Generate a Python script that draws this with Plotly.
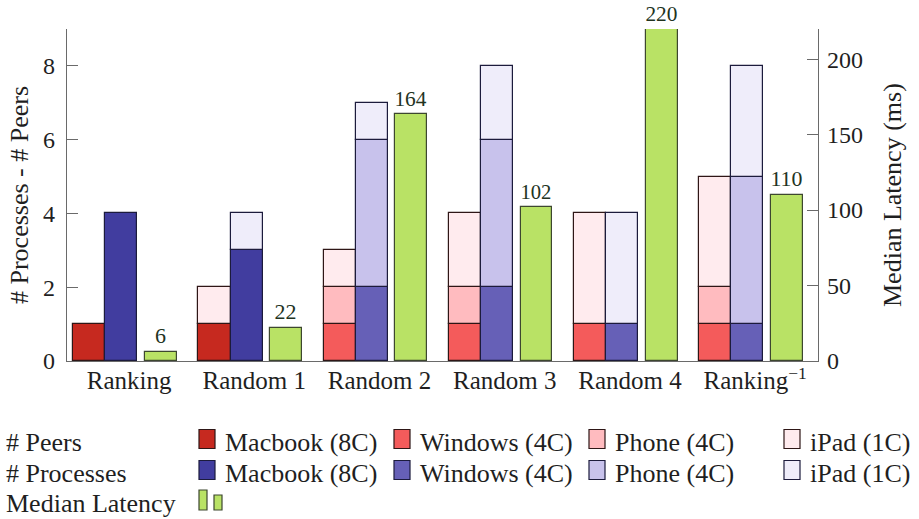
import numpy as np
import plotly.graph_objects as go

# ---- data -------------------------------------------------------------
categories = ["Ranking", "Random 1", "Random 2", "Random 3", "Random 4", "Ranking<sup>\u22121</sup>"]
devices = ["Macbook (8C)", "Windows (4C)", "Phone (4C)", "iPad (1C)"]

peers_macbook = [1, 1, 0, 0, 0, 0]
peers_windows = [0, 0, 1, 1, 1, 1]
peers_phone = [0, 0, 1, 1, 0, 1]
peers_ipad = [0, 1, 1, 2, 3, 3]

procs_macbook = [4, 3, 0, 0, 0, 0]
procs_windows = [0, 0, 2, 2, 1, 1]
procs_phone = [0, 0, 4, 4, 0, 4]
procs_ipad = [0, 1, 1, 2, 3, 3]

median_latency = [6, 22, 164, 102, 220, 110]

# ---- styling ----------------------------------------------------------
peer_colors = ["#c6291f", "#f45b5b", "#ffbbbf", "#ffebee"]
proc_colors = ["#413d9f", "#6660b7", "#c8c2ec", "#efedfa"]
peer_edge = "#2e1616"
proc_edge = "#1c1b3c"
lat_color = "#b9e265"
lat_edge = "#3d472f"
axis_color = "#6a6a6a"
text_color = "#1f1f1f"
FONT = "Liberation Serif"

# plot area in pixels
L, R, T, B = 67, 818, 29, 361
W, H = 919, 519

def px(x):
    return (x - L) / (R - L)

def py(y):
    return (B - y) / (B - T)

x = np.arange(len(categories))
bar_w = 0.256
peer_off = -0.446
proc_off = peer_off + bar_w
lat_off = 0.127
lat_w = 0.253

fig = go.Figure()


def add_stack(series, colors, edge, offset):
    base = np.zeros(len(categories))
    for vals, col, name in zip(series, colors, devices):
        v = np.array(vals, dtype=float)
        fig.add_trace(go.Bar(
            x=x, y=[val if val > 0 else None for val in v],
            base=base.copy(), offset=offset, width=bar_w,
            marker=dict(color=col, line=dict(color=edge, width=1.2)),
            name=name, showlegend=False, hoverinfo="skip",
        ))
        base = base + v


add_stack([peers_macbook, peers_windows, peers_phone, peers_ipad], peer_colors, peer_edge, peer_off)
add_stack([procs_macbook, procs_windows, procs_phone, procs_ipad], proc_colors, proc_edge, proc_off)

fig.add_trace(go.Bar(
    x=x, y=median_latency, yaxis="y2", offset=lat_off, width=lat_w,
    marker=dict(color=lat_color, line=dict(color=lat_edge, width=1.2)),
    text=[str(v) for v in median_latency], textposition="outside",
    textfont=dict(family=FONT, size=22, color="#22331e"),
    cliponaxis=False, showlegend=False, hoverinfo="skip", name="Median Latency",
))

axis_common = dict(
    showgrid=False, zeroline=False, showline=True, linecolor=axis_color, linewidth=1.3,
    ticks="inside", ticklen=11, tickcolor=axis_color, tickwidth=1.2,
)

fig.update_layout(
    width=W, height=H,
    margin=dict(l=L, r=W - R, t=T, b=H - B, pad=0),
    paper_bgcolor="white", plot_bgcolor="white",
    barmode="overlay", bargap=0,
    font=dict(family=FONT, size=24, color=text_color),
    xaxis=dict(
        range=[-0.496, 5.502], tickvals=list(x), ticktext=categories,
        showgrid=False, zeroline=False, showline=True, linecolor=axis_color, linewidth=1.3,
        ticks="", tickfont=dict(family=FONT, size=25, color=text_color),
        ticklabelstandoff=-3,
    ),
    yaxis=dict(range=[0, 9], tickvals=[0, 2, 4, 6, 8],
               tickfont=dict(family=FONT, size=24, color=text_color),
               ticklabelstandoff=6, **axis_common),
    yaxis2=dict(range=[0, 220], tickvals=[0, 50, 100, 150, 200], overlaying="y", side="right",
                tickfont=dict(family=FONT, size=24, color=text_color),
                ticklabelstandoff=3, **axis_common),
    showlegend=False,
)

annotations = [
    dict(text="# Processes - # Peers", x=px(19), y=py(195), xref="paper", yref="paper",
         textangle=-90, showarrow=False, xanchor="center", yanchor="middle",
         font=dict(family=FONT, size=26, color=text_color)),
    dict(text="Median Latency (ms)", x=px(892), y=py(195), xref="paper", yref="paper",
         textangle=-90, showarrow=False, xanchor="center", yanchor="middle",
         font=dict(family=FONT, size=26, color=text_color)),
]
shapes = []

# ---- legend block -----------------------------------------------------
row_centers = [439, 470]
row_titles = ["# Peers", "# Processes"]
col_x = [199, 394, 589, 784]
sw_w, sw_h = 16, 19
for yc, title, colors, edge in zip(row_centers, row_titles,
                                   [peer_colors, proc_colors],
                                   [peer_edge, proc_edge]):
    annotations.append(dict(text=title, x=px(4), y=py(yc + 3), xref="paper", yref="paper",
                            showarrow=False, xanchor="left", yanchor="middle",
                            font=dict(family=FONT, size=26, color=text_color)))
    for cx, col, name in zip(col_x, colors, devices):
        shapes.append(dict(type="rect", xref="paper", yref="paper",
                           x0=px(cx), x1=px(cx + sw_w), y0=py(yc + sw_h / 2), y1=py(yc - sw_h / 2),
                           fillcolor=col, line=dict(color=edge, width=1.2)))
        annotations.append(dict(text=name, x=px(cx + sw_w + 8), y=py(yc + 3), xref="paper",
                                yref="paper", showarrow=False, xanchor="left", yanchor="middle",
                                font=dict(family=FONT, size=26, color=text_color)))

annotations.append(dict(text="Median Latency", x=px(4), y=py(503), xref="paper", yref="paper",
                        showarrow=False, xanchor="left", yanchor="middle",
                        font=dict(family=FONT, size=26, color=text_color)))
for bx0, bx1, top in [(199, 207, 490), (214, 222, 495)]:
    shapes.append(dict(type="rect", xref="paper", yref="paper",
                       x0=px(bx0), x1=px(bx1), y0=py(510), y1=py(top),
                       fillcolor=lat_color, line=dict(color=lat_edge, width=1.2)))

fig.update_layout(annotations=annotations, shapes=shapes)

fig.write_html("out.html")
